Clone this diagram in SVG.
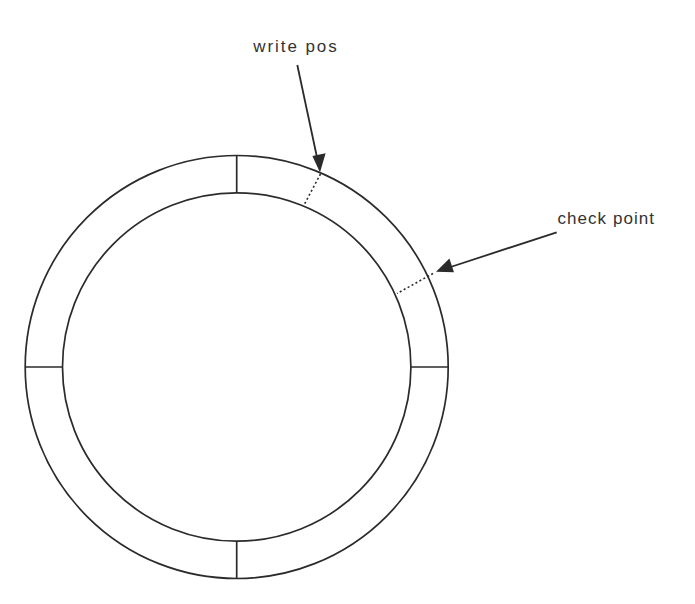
<svg xmlns="http://www.w3.org/2000/svg" width="695" height="604" viewBox="0 0 695 604">
<style>
.ring{fill:none;stroke:#2b2b2b;stroke-width:1.7}
.div{stroke:#2b2b2b;stroke-width:1.7}
.dot{stroke:#2b2b2b;stroke-width:1.6;stroke-dasharray:2 2.5}
.arr{stroke:#2b2b2b;stroke-width:1.8;fill:none}
.head{fill:#2b2b2b}
.lbl{font-family:"Liberation Sans",Arial,sans-serif;font-size:17px;fill:#333}
</style>
<rect width="695" height="604" fill="#fff"/>
<g id="ring">
<circle class="ring" cx="236.7" cy="367" r="211.5"/>
<circle class="ring" cx="236.7" cy="367" r="174.2"/>
<line class="div" x1="236.7" y1="155.5" x2="236.7" y2="192.8"/>
<line class="div" x1="236.7" y1="541.2" x2="236.7" y2="578.5"/>
<line class="div" x1="25.2" y1="367" x2="62.5" y2="367"/>
<line class="div" x1="410.9" y1="367" x2="448.2" y2="367"/>
</g>
<g id="markers">
<line class="dot" x1="320.5" y1="174" x2="304" y2="205"/>
<line class="dot" x1="433" y1="273.5" x2="397" y2="293.5"/>
</g>
<g id="connectors">
<path class="arr" d="M297.3,65 L318,162"/>
<polygon class="head" points="320,172.5 312.4,156 325.6,153.2"/>
<path class="arr" d="M556.7,232.3 L446,268.5"/>
<polygon class="head" points="436,271.7 449.4,258.5 454,272.2"/>
</g>
<g id="label-write">
<text class="lbl" x="253.3" y="52" textLength="83.4" lengthAdjust="spacing">write pos</text>
</g>
<g id="label-check">
<text class="lbl" x="557.5" y="223.5" textLength="96.5" lengthAdjust="spacing">check point</text>
</g>
</svg>
